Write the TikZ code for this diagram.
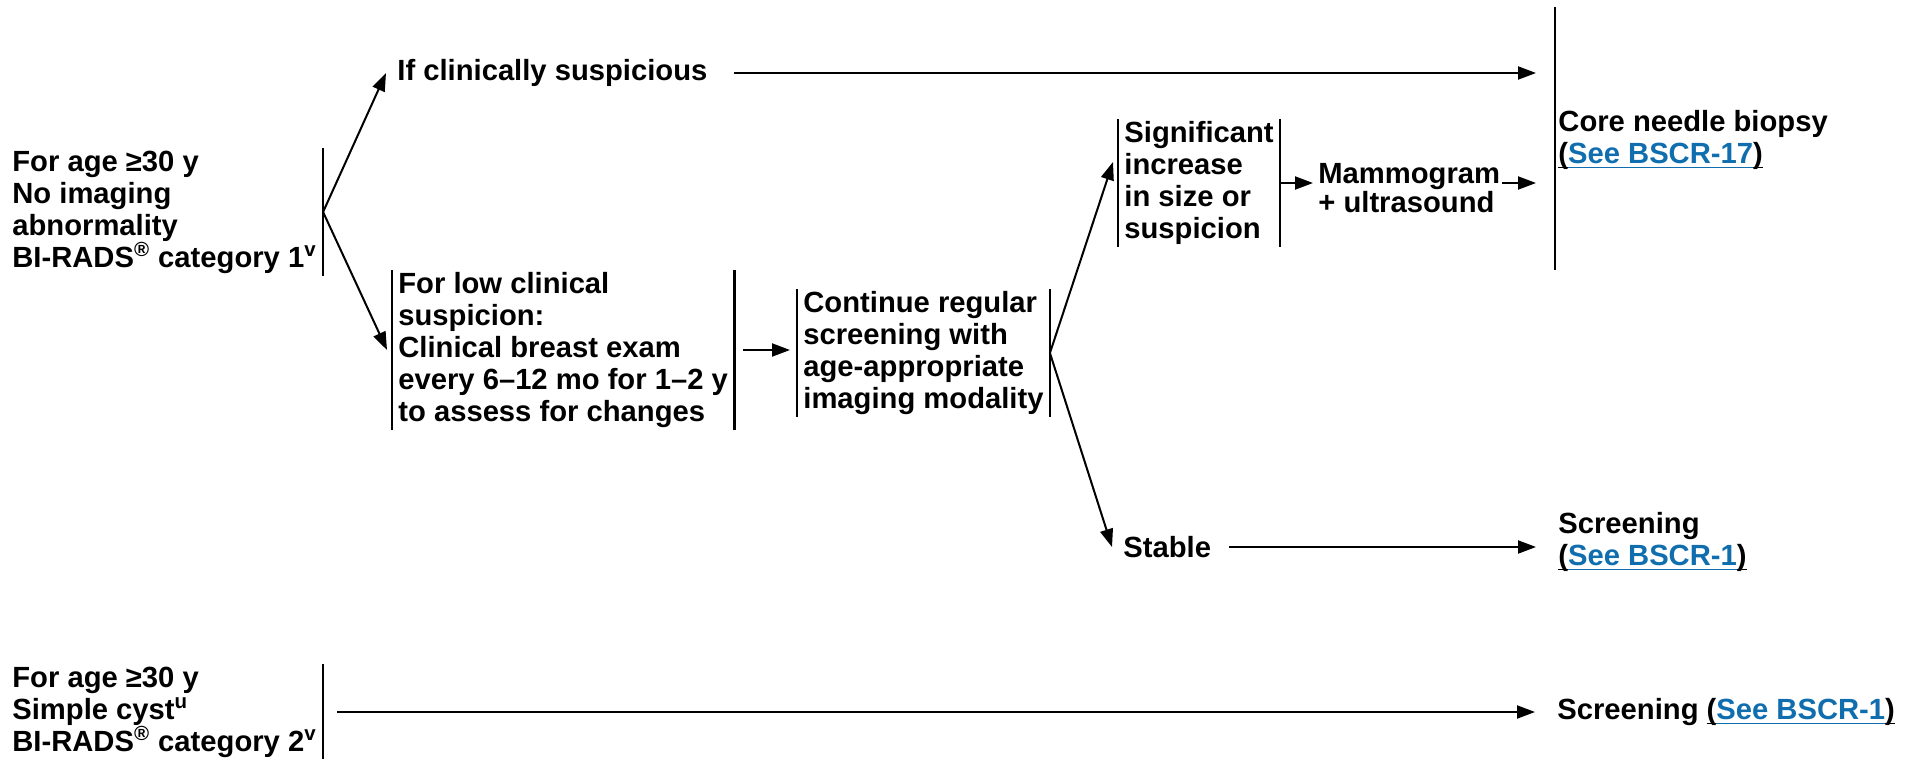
\documentclass[tikz,border=0pt]{standalone}
\usepackage{fontspec}
\setmainfont{Liberation Sans}
\usetikzlibrary{arrows.meta,positioning}
\definecolor{linkblue}{RGB}{16,110,175}
\newcommand{\ulk}[1]{\setbox0\hbox{#1}\rlap{\rule[-2.4pt]{\wd0}{0.8pt}}\box0}
\newcommand{\seeref}[1]{\ulk{(}\textcolor{linkblue}{\ulk{See #1}}\ulk{)}}
\tikzset{>={Triangle[length=9pt,width=6.5pt]}}
\tikzset{
    every node/.style={font=\fontsize{14.6pt}{16pt}\selectfont\bfseries,inner sep=0pt,anchor=west,align=left},
    blk/.style={inner xsep=3pt,inner ysep=1pt},
    bar/.style={line width=1.2pt},
    arr/.style={->,line width=1pt}
}

\begin{document}
\begin{tikzpicture}[x=0.5pt,y=-0.5pt]
        \useasboundingbox (0,0) rectangle (1910,759);
        \node[blk] (ageA) at (6,212) {For age ≥30 y\\No imaging\\abnormality\\BI-RADS\textsuperscript{®} category 1\textsuperscript{v}};
        \node[inner xsep=5.5pt] (clin) at (386,73) {If clinically suspicious};
        \node[blk] (low) at (392,350) {For low clinical\\suspicion:\\Clinical breast exam\\every 6–12 mo for 1–2 y\\to assess for changes};
        \node[blk] (cont) at (797,353) {Continue regular\\screening with\\age-appropriate\\imaging modality};
        \node[blk] (sig) at (1118,183) {Significant\\increase\\in size or\\suspicion};
        \node[inner xsep=2.5pt,font=\fontsize{14.6pt}{12.5pt}\selectfont\bfseries] (mammo) at (1313,188) {Mammogram\\+ ultrasound};
        \node[inner xsep=5.5pt] (stable) at (1112,547) {Stable};
        \node (core) at (1558,140) {Core needle biopsy\\\seeref{BSCR-17}};
        \node (scrA) at (1558,542) {Screening\\\seeref{BSCR-1}};
        \node[blk] (ageB) at (6,712) {For age ≥30 y\\Simple cyst\textsuperscript{u}\\BI-RADS\textsuperscript{®} category 2\textsuperscript{v}};
        \node (scrB) at (1557,712) {Screening \seeref{BSCR-1}};

        % bars
        \draw[bar] (ageA.north east) -- (ageA.south east);
        \draw[bar] (ageB.north east) -- (ageB.south east);
        \draw[bar] (low.north west) -- (low.south west) (low.north east) -- (low.south east);
        \draw[bar] (cont.north west) -- (cont.south west) (cont.north east) -- (cont.south east);
        \draw[bar] (sig.north west) -- (sig.south west) (sig.north east) -- (sig.south east);
        \draw[bar] ([xshift=-1.5pt]core.west) ++(0,-133) -- ++(0,263);

        % arrows
        \path[arr]
            (ageA.east) edge (clin.west)
            (ageA.east) edge ([xshift=-2.5pt]low.west)
            (clin.east) edge[shorten <=7.5pt,shorten >=11pt] (clin.east -| core.west)
            (low.east) edge[shorten <=4.5pt,shorten >=3.5pt] (low.east -| cont.west)
            (cont.east) edge ([xshift=-2.5pt,yshift=10.5pt]sig.west)
            (cont.east) edge (stable.west)
            (sig.east) edge (sig.east -| mammo.west)
            (sig.east -| mammo.east) edge[shorten <=-2pt,shorten >=11pt] (sig.east -| core.west)
            (stable.east) edge[shorten <=3.5pt,shorten >=11pt] (stable.east -| scrA.west)
            (ageB.east) edge[shorten <=7pt,shorten >=11pt] (ageB.east -| scrB.west)
        ;
\end{tikzpicture}
\end{document}
